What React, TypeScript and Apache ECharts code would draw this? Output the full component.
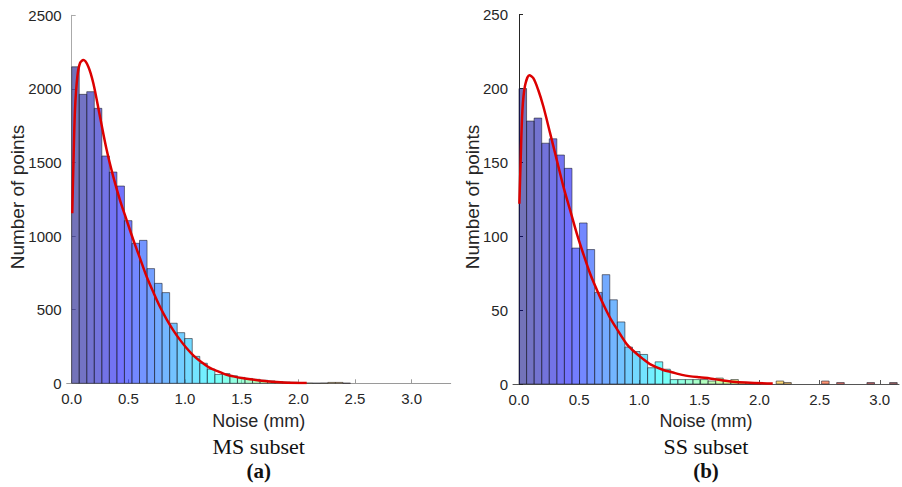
import React, { useEffect, useRef } from "react";
import * as echarts from "echarts";

// ---------- Data ----------
// MS subset histogram: 50 bins of width 0.0665 mm starting at 0
const msBinWidth = 0.0665;
const msCounts = [
  2150, 1963, 1981, 1868, 1544, 1435, 1340, 1105, 951, 971,
  779, 679, 616, 408, 344, 304, 183, 136, 96, 60,
  66, 51, 40, 33, 27, 21, 16, 12, 9, 7,
  4, 2, 1, 2, 6, 6, 1, 0, 0, 0,
  0, 0, 0, 0, 0, 0, 0, 0, 0, 0,
];
// MS fitted curve
const msCurveX = [
  0.005, 0.014, 0.029, 0.05, 0.073, 0.103, 0.147, 0.191, 0.25, 0.309,
  0.367, 0.426, 0.485, 0.544, 0.603, 0.662, 0.72, 0.779, 0.838, 0.897,
  0.956, 1.015, 1.073, 1.132, 1.22, 1.28, 1.368, 1.426, 1.515, 1.574,
  1.662, 1.72, 1.868, 2.074,
];
const msCurveY = [
  1155, 1450, 1857, 2083, 2174, 2196, 2151, 2038, 1811, 1585,
  1404, 1245, 1109, 974, 849, 724, 620, 520, 435, 360,
  295, 238, 190, 152, 105, 85, 58, 47, 34, 27,
  19, 14, 6, 2,
];

// SS subset histogram: 50 bins of width 0.0629 mm starting at 0
const ssBinWidth = 0.0629;
const ssCounts = [
  200, 178, 180, 163, 166, 155, 146, 92, 109, 91,
  62, 74, 57, 42, 25, 22, 20, 11, 15, 10,
  3, 3, 3, 3, 3, 2, 4, 2, 3, 1,
  1, 1, 0, 0, 2, 1, 0, 0, 0, 0,
  2, 0, 1, 0, 0, 0, 1, 0, 0, 1,
];
const ssCurveX = [
  0.003, 0.014, 0.028, 0.05, 0.086, 0.119, 0.16, 0.202, 0.258, 0.313,
  0.368, 0.424, 0.48, 0.535, 0.59, 0.646, 0.701, 0.756, 0.812, 0.895,
  0.95, 1.03, 1.089, 1.2, 1.27, 1.366, 1.5, 1.588, 1.78, 2.11,
];
const ssCurveY = [
  122, 152, 185, 202, 209, 207, 199, 188, 170, 152,
  134, 118, 102, 88, 75, 64, 54, 45, 37.5, 27,
  22.5, 17, 13.5, 9.5, 8, 6, 4.5, 3.8, 1.6, 0.3,
];

const xTicks = [0, 0.5, 1.0, 1.5, 2.0, 2.5, 3.0];
const xAxisTitle = "Noise (mm)";
const yAxisTitle = "Number of points";
const subsetNames = ["MS subset", "SS subset"];
const panelTags = ["(a)", "(b)"];

// ---------- helpers ----------
function jet(t: number, a: number) {
  const c = (v: number) => Math.max(0, Math.min(1, v));
  const r = c(1.5 - Math.abs(4 * t - 3));
  const g = c(1.5 - Math.abs(4 * t - 2));
  const b = c(1.5 - Math.abs(4 * t - 1));
  return `rgba(${Math.round(r * 255)},${Math.round(g * 255)},${Math.round(b * 255)},${a})`;
}

function histData(counts: number[], w: number) {
  return counts.map((v, i) => [i * w, (i + 1) * w, v, i]);
}

function histSeries(counts: number[], w: number, idx: number) {
  const n = counts.length;
  return {
    type: "custom",
    xAxisIndex: idx,
    yAxisIndex: idx,
    encode: { x: [0, 1], y: 2 },
    data: histData(counts, w),
    renderItem: (params: any, api: any) => {
      const x0 = api.value(0);
      const x1 = api.value(1);
      const v = api.value(2);
      const k = api.value(3);
      if (!v) return null;
      const p0 = api.coord([x0, v]);
      const p1 = api.coord([x1, 0]);
      return {
        type: "rect",
        shape: { x: p0[0], y: p0[1], width: p1[0] - p0[0], height: p1[1] - p0[1] },
        style: {
          fill: jet(k / (n - 1), 0.55),
          stroke: "rgba(35,35,45,0.6)",
          lineWidth: 1,
        },
      };
    },
    z: 2,
  };
}

function curveSeries(xs: number[], ys: number[], idx: number) {
  return {
    type: "line",
    xAxisIndex: idx,
    yAxisIndex: idx,
    data: xs.map((x, i) => [x, ys[i]]),
    smooth: 0.3,
    showSymbol: false,
    symbol: "none",
    lineStyle: { color: "#dc0000", width: 2.5 },
    z: 5,
  };
}

const tickFont = { fontFamily: "Liberation Sans, Arial, sans-serif", fontSize: 15, color: "#262626" };

function xAxisCfg(idx: number, min: number, max: number, lineColor: string) {
  return {
    type: "value",
    gridIndex: idx,
    min,
    max,
    splitLine: { show: false },
    axisLine: { show: true, lineStyle: { color: lineColor, width: 1 } },
    axisTick: { show: true, inside: true, length: 4, customValues: xTicks, lineStyle: { color: lineColor } },
    axisLabel: {
      ...tickFont,
      margin: 8,
      customValues: xTicks,
      formatter: (v: number) => v.toFixed(1),
    },
  };
}

function yAxisCfg(idx: number, max: number, interval: number, lineColor: string) {
  return {
    type: "value",
    gridIndex: idx,
    min: 0,
    max,
    interval,
    splitLine: { show: false },
    axisLine: { show: true, lineStyle: { color: lineColor, width: 1 } },
    axisTick: { show: true, inside: true, length: 4, lineStyle: { color: lineColor } },
    axisLabel: { ...tickFont, margin: 5, formatter: (v: number) => String(v) },
  };
}

export default function App() {
  const ref = useRef<HTMLDivElement>(null);
  useEffect(() => {
    if (!ref.current) return;
    const chart = echarts.init(ref.current, undefined, { renderer: "svg" });
    const sansTitle = "Liberation Sans, Arial, sans-serif";
    const serif = "Liberation Serif, Times New Roman, serif";
    const centers = [258.7, 706];
    const graphics: any[] = [];
    [17, 472].forEach((x) => {
      graphics.push({
        type: "text",
        x,
        y: 197,
        rotation: Math.PI / 2,
        style: {
          text: yAxisTitle,
          font: `19px ${sansTitle}`,
          fill: "#262626",
          textAlign: "center",
          textVerticalAlign: "middle",
        },
      });
    });
    centers.forEach((cx, i) => {
      graphics.push({
        type: "text",
        x: cx,
        y: 421,
        style: { text: xAxisTitle, font: `18px ${sansTitle}`, fill: "#262626", textAlign: "center", textVerticalAlign: "middle" },
      });
      graphics.push({
        type: "text",
        x: cx,
        y: 446,
        style: { text: subsetNames[i], font: `22px ${serif}`, fill: "#111", textAlign: "center", textVerticalAlign: "middle" },
      });
      graphics.push({
        type: "text",
        x: cx,
        y: 471,
        style: { text: panelTags[i], font: `bold 21px ${serif}`, fill: "#111", textAlign: "center", textVerticalAlign: "middle" },
      });
    });

    chart.setOption({
      animation: false,
      backgroundColor: "#ffffff",
      grid: [
        { left: 66.7, top: 15.3, width: 384, height: 368 },
        { left: 513, top: 14.7, width: 386, height: 369.3 },
      ],
      xAxis: [xAxisCfg(0, -0.044, 3.345, "#9a9a9a"), xAxisCfg(1, -0.05, 3.16, "#555555")],
      yAxis: [yAxisCfg(0, 2500, 500, "#aaaaaa"), yAxisCfg(1, 250, 50, "#262626")],
      series: [
        histSeries(msCounts, msBinWidth, 0),
        curveSeries(msCurveX, msCurveY, 0),
        histSeries(ssCounts, ssBinWidth, 1),
        curveSeries(ssCurveX, ssCurveY, 1),
      ],
      graphic: graphics,
    });
    return () => chart.dispose();
  }, []);
  return (
    <div
      ref={ref}
      style={{ position: "fixed", left: 0, top: 0, width: 902, height: 487, background: "#fff" }}
    />
  );
}
